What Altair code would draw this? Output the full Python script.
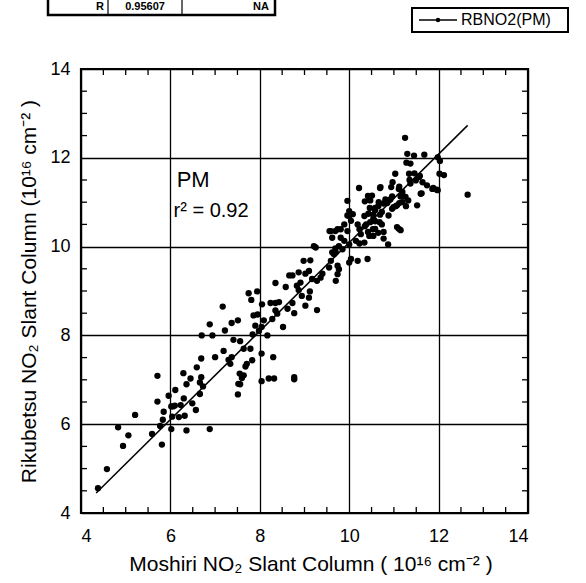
import altair as alt
import pandas as pd

# Moshiri (x) vs Rikubetsu (y) NO2 slant columns, 1e16 cm^-2, PM
moshiri = [
    4.38, 4.58, 4.94, 5.06, 4.83, 5.21, 5.59, 5.81, 5.77, 5.83, 5.85, 5.71, 5.71, 5.96, 6.02, 6.11,
    6.06, 6.23, 6.30, 6.04, 6.19, 6.32, 6.02, 6.36, 6.29, 6.36, 6.45, 6.57, 6.49, 6.59, 6.69, 6.66,
    6.66, 6.88, 6.69, 6.73, 6.10,
    6.70, 6.94, 6.88, 7.00, 7.19, 7.17, 7.22, 7.37, 7.51, 7.30, 7.37, 7.34, 7.41, 7.56, 7.64, 7.55,
    7.68, 7.71, 7.79, 7.83, 7.64, 7.60, 7.52, 7.56, 7.51, 7.84, 7.90, 7.86, 7.95, 7.75, 7.81, 7.94,
    7.98, 8.04, 8.17, 8.04, 8.04, 8.20, 8.32, 8.30, 8.77, 8.77, 8.05, 8.24, 8.35, 8.43, 8.35, 8.58,
    8.66, 8.73, 8.09, 8.28, 8.39, 8.35, 8.52, 8.62, 8.77, 8.73,
    8.98, 9.13, 8.87, 9.02, 9.10, 8.91, 8.83, 9.17, 9.28, 9.36, 9.40, 9.55, 9.59, 9.66, 9.70, 9.74,
    9.77, 9.74, 9.70, 10.00, 10.19, 10.41, 10.04, 8.87, 8.94, 9.12, 9.02, 9.28, 9.10, 9.21, 9.25, 9.59,
    9.74, 9.81, 9.62, 9.81, 9.96, 9.89, 10.04, 9.89, 10.00, 9.77, 9.85, 10.15, 10.26, 10.34, 10.45, 10.53,
    10.57, 10.38, 10.19, 10.08, 10.34, 10.00,
    9.56, 9.69, 10.23, 10.42, 10.35, 10.23, 9.62, 9.69,
    10.22, 10.42, 10.45, 10.35, 9.96, 10.00, 9.96, 10.87, 12.65, 12.12,
    11.25, 11.30, 11.45, 11.68, 11.28, 11.37, 11.98, 12.03, 12.02, 11.98, 11.03, 10.97, 10.94, 10.70,
    11.11, 11.19, 11.34, 11.56, 11.64, 11.74, 11.86, 11.49, 11.37, 11.26, 11.32, 11.60, 11.52, 11.19,
    11.07, 10.99, 10.88, 10.77, 10.66, 10.51, 10.47, 10.58, 10.73, 10.54, 10.68, 10.47, 10.58, 10.77,
    10.77, 11.11, 11.15, 11.07, 10.88, 10.96, 10.43,
    11.12, 11.35, 11.46, 11.58, 11.88, 11.96, 11.62, 11.15, 11.12, 11.04, 11.27, 10.96, 10.81, 10.85,
    10.69, 10.92, 10.58, 10.65, 10.69, 10.54, 10.46, 10.58, 10.73, 10.65, 10.54,
]
rikubetsu = [
    4.56, 4.99, 5.51, 5.75, 5.93, 6.21, 5.78, 5.54, 5.96, 6.10, 6.28, 7.09, 6.51, 6.64, 6.40, 6.77,
    6.40, 6.43, 6.58, 6.17, 6.16, 6.19, 5.89, 5.86, 7.15, 6.90, 7.03, 6.32, 6.47, 7.28, 7.48, 6.94,
    6.68, 5.89, 7.06, 6.85, 6.42,
    8.00, 8.00, 8.25, 7.51, 7.65, 8.65, 8.11, 8.28, 8.34, 7.45, 7.51, 7.36, 7.90, 7.87, 7.70, 7.14,
    7.30, 7.36, 7.70, 7.44, 7.10, 7.04, 6.91, 6.90, 6.67, 8.02, 8.22, 8.45, 8.47, 8.95, 8.80, 8.99,
    8.10, 8.19, 8.00, 7.59, 6.97, 7.03, 7.03, 7.51, 7.06, 7.01, 8.70, 8.73, 8.73, 8.75, 9.18, 9.09,
    9.35, 9.35, 8.34, 8.37, 8.49, 8.56, 8.19, 8.60, 8.50, 8.73,
    9.68, 9.69, 9.42, 9.39, 9.45, 9.19, 9.12, 9.27, 9.23, 9.30, 9.39, 9.53, 9.68, 9.83, 9.87, 9.57,
    9.49, 9.38, 9.23, 9.64, 9.68, 9.72, 9.72, 9.02, 8.89, 8.99, 8.67, 8.57, 8.85, 10.01, 9.98, 10.35,
    10.39, 10.39, 10.20, 10.20, 10.35, 10.50, 10.58, 10.13, 10.05, 10.01, 9.94, 10.13, 10.28, 10.09, 10.24, 10.39,
    10.58, 10.50, 10.50, 10.73, 10.69, 10.69,
    10.35, 10.35, 10.39, 10.33, 10.46, 10.07, 9.87, 9.96,
    11.32, 11.14, 11.06, 11.02, 11.03, 10.80, 10.70, 10.05, 11.17, 11.61,
    12.45, 12.09, 12.05, 12.07, 11.89, 11.87, 12.01, 11.93, 11.64, 11.27, 11.64, 11.45, 11.34, 11.34,
    11.30, 11.23, 11.64, 11.57, 11.45, 11.38, 11.30, 11.49, 11.42, 11.12, 11.04, 11.19, 10.93, 11.00,
    10.93, 10.89, 11.04, 10.97, 11.00, 11.15, 11.04, 10.82, 10.78, 10.63, 10.55, 10.55, 10.40, 10.33,
    10.18, 10.40, 10.37, 10.44, 10.70, 10.85, 10.74,
    11.35, 11.50, 11.65, 11.59, 11.32, 11.28, 11.20, 11.13, 10.98, 10.91, 10.91, 11.13, 11.06, 10.98,
    11.32, 11.06, 10.87, 10.91, 10.72, 10.72, 10.87, 10.57, 10.50, 10.31, 10.24,
]

# regression line end points
fit_x = [4.34, 12.65]
fit_y = [4.45, 12.73]

major_ticks = [4, 6, 8, 10, 12, 14]
minor_ticks = [4.5, 5.0, 5.5, 6.5, 7.0, 7.5, 8.5, 9.0, 9.5, 10.5, 11.0, 11.5, 12.5, 13.0, 13.5]

ann_text = ["PM", "r² = 0.92"]
ann_x = [6.14, 6.07]
ann_y = [11.5, 10.8]
ann_size = [22, 20]

x_title = "Moshiri NO₂ Slant Column  ( 10¹⁶ cm⁻² )"
y_title = "Rikubetsu NO₂ Slant Column  (10¹⁶ cm⁻² )"
legend_label = "RBNO2(PM)"
table_cells = ["R", "0.95607", "NA"]

W, H = 447, 444
FONT = "Liberation Sans"

pts = pd.DataFrame({"x": moshiri, "y": rikubetsu})
fit = pd.DataFrame({"x": fit_x, "y": fit_y})
minor = pd.DataFrame({"t": minor_ticks})
ann = pd.DataFrame({"label": ann_text, "x": ann_x, "y": ann_y, "size": ann_size})

xs = alt.Scale(domain=[4, 14], nice=False, zero=False)
ys = alt.Scale(domain=[4, 14], nice=False, zero=False)

x_axis = alt.Axis(values=major_ticks, grid=True, gridColor="black", gridWidth=1.3,
                  domain=False, ticks=False, labelFontSize=18, labelFont=FONT,
                  labelColor="black", labelPadding=14, title=x_title, titleFont=FONT,
                  titleFontSize=21, titleFontWeight="normal", titleColor="black",
                  titlePadding=8, titleX=W / 2 + 6, format="d")
y_axis = alt.Axis(values=major_ticks, grid=True, gridColor="black", gridWidth=1.3,
                  domain=False, ticks=False, labelFontSize=18, labelFont=FONT,
                  labelColor="black", labelPadding=11, title=y_title, titleFont=FONT,
                  titleFontSize=21, titleFontWeight="normal", titleColor="black",
                  titlePadding=10, format="d")

scatter = alt.Chart(pts).mark_circle(size=40, color="black", opacity=1).encode(
    x=alt.X("x:Q", scale=xs, axis=x_axis),
    y=alt.Y("y:Q", scale=ys, axis=y_axis),
)

line = alt.Chart(fit).mark_line(color="black", strokeWidth=1.5).encode(
    x=alt.X("x:Q", scale=xs), y=alt.Y("y:Q", scale=ys)
)

tick_bottom = alt.Chart(minor).mark_rule(color="black", strokeWidth=1.3).encode(
    x=alt.X("t:Q", scale=xs), y=alt.value(H), y2=alt.value(H - 6))
tick_top = alt.Chart(minor).mark_rule(color="black", strokeWidth=1.3).encode(
    x=alt.X("t:Q", scale=xs), y=alt.value(0), y2=alt.value(6))
tick_left = alt.Chart(minor).mark_rule(color="black", strokeWidth=1.3).encode(
    y=alt.Y("t:Q", scale=ys), x=alt.value(0), x2=alt.value(6))
tick_right = alt.Chart(minor).mark_rule(color="black", strokeWidth=1.3).encode(
    y=alt.Y("t:Q", scale=ys), x=alt.value(W), x2=alt.value(W - 6))

texts = alt.Chart(ann).mark_text(align="left", baseline="middle", font=FONT, color="black").encode(
    x=alt.X("x:Q", scale=xs), y=alt.Y("y:Q", scale=ys), text="label:N",
    size=alt.Size("size:Q", scale=None, legend=None))

# legend box (top right, outside the plot)
leg_df = pd.DataFrame({"label": [legend_label]})
leg_box = alt.Chart(leg_df).mark_rect(fill="white", stroke="black", strokeWidth=2).encode(
    x=alt.value(331), x2=alt.value(487), y=alt.value(-61), y2=alt.value(-37))
leg_line = alt.Chart(leg_df).mark_rule(color="black", strokeWidth=1.3).encode(
    x=alt.value(338), x2=alt.value(376), y=alt.value(-49))
leg_dot = alt.Chart(leg_df).mark_point(filled=True, color="black", size=20, opacity=1).encode(
    x=alt.value(357), y=alt.value(-49))
leg_text = alt.Chart(leg_df).mark_text(align="left", baseline="middle", font=FONT,
                                       fontSize=16, color="black").encode(
    x=alt.value(380), y=alt.value(-49), text="label:N")

# clipped statistics table at the top
one = pd.DataFrame({"a": [0]})
tab_box = alt.Chart(one).mark_rect(fill="white", stroke="black", strokeWidth=2.5).encode(
    x=alt.value(-33), x2=alt.value(194), y=alt.value(-95), y2=alt.value(-54))
tab_div1 = alt.Chart(one).mark_rule(color="black", strokeWidth=1.2).encode(
    x=alt.value(27), y=alt.value(-72), y2=alt.value(-54))
tab_div2 = alt.Chart(one).mark_rule(color="black", strokeWidth=1.2).encode(
    x=alt.value(101), y=alt.value(-72), y2=alt.value(-54))
tab_r = alt.Chart(pd.DataFrame({"label": [table_cells[0]]})).mark_text(
    align="right", baseline="middle", font=FONT, fontSize=11, fontWeight="bold", color="black"
).encode(x=alt.value(23), y=alt.value(-62), text="label:N")
tab_v = alt.Chart(pd.DataFrame({"label": [table_cells[1]]})).mark_text(
    align="center", baseline="middle", font=FONT, fontSize=11, fontWeight="bold", color="black"
).encode(x=alt.value(64), y=alt.value(-62), text="label:N")
tab_na = alt.Chart(pd.DataFrame({"label": [table_cells[2]]})).mark_text(
    align="right", baseline="middle", font=FONT, fontSize=11, fontWeight="bold", color="black"
).encode(x=alt.value(188), y=alt.value(-62), text="label:N")

chart = alt.layer(
    scatter, line, tick_bottom, tick_top, tick_left, tick_right, texts,
    leg_box, leg_line, leg_dot, leg_text, tab_box, tab_div1, tab_div2, tab_r, tab_v, tab_na,
).properties(
    width=W, height=H,
    autosize=alt.AutoSizeParams(type="none"),
    padding={"left": 81, "top": 69, "right": 58, "bottom": 70},
    background="white",
).configure_view(stroke="black", strokeWidth=2.2)

chart.save("out.html", embed_options={"renderer": "svg", "actions": False})
